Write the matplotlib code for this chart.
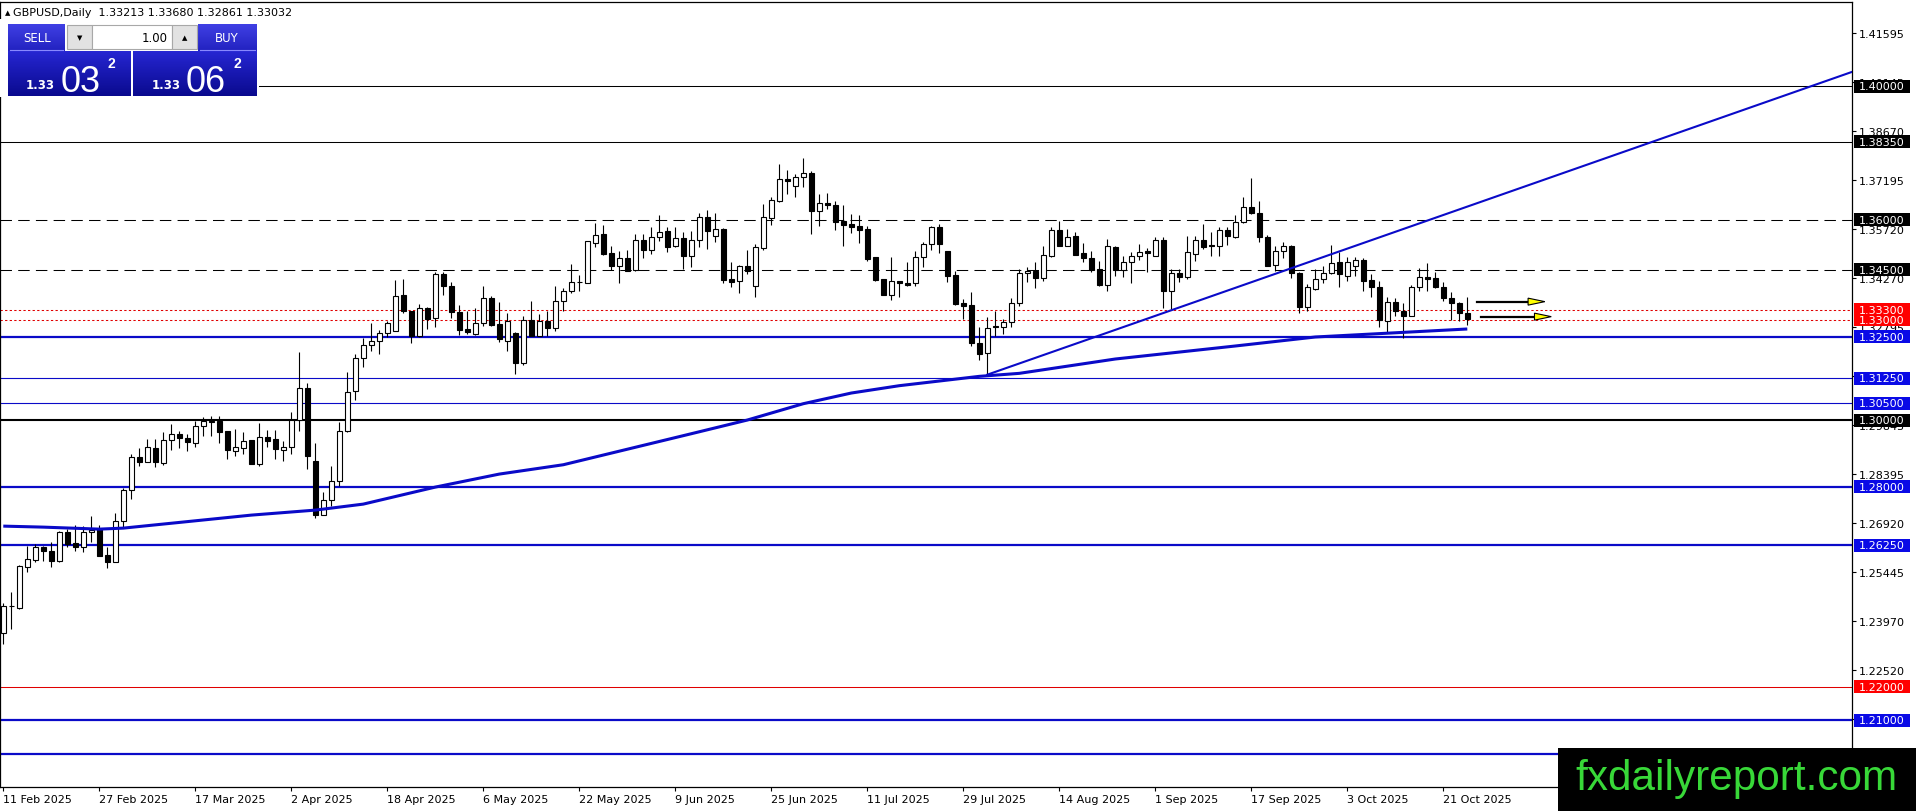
import matplotlib
matplotlib.use("Agg")
import matplotlib.pyplot as plt
import numpy as np
from matplotlib.patches import Rectangle, Polygon

W, H = 1916, 812

# daily candles, GBPUSD, 11 Feb 2025 .. 24 Oct 2025
opens = [
    1.2362, 1.2443, 1.2437, 1.2560, 1.2581, 1.2619, 1.2607, 1.2578, 1.2664, 1.2631,
    1.2619, 1.2664, 1.2673, 1.2595, 1.2575, 1.2697, 1.2790, 1.2889, 1.2874, 1.2916,
    1.2871, 1.2940, 1.2958, 1.2946, 1.2931, 1.2982, 1.2997, 1.2997, 1.2967, 1.2907,
    1.2916, 1.2940, 1.2868, 1.2949, 1.2943, 1.2910, 1.2919, 1.3000, 1.3096, 1.2877,
    1.2715, 1.2760, 1.2817, 1.2967, 1.3087, 1.3186, 1.3225, 1.3237, 1.3261, 1.3267,
    1.3375, 1.3327, 1.3252, 1.3336, 1.3306, 1.3438, 1.3402, 1.3324, 1.3273, 1.3258,
    1.3291, 1.3366, 1.3288, 1.3237, 1.3261, 1.3171, 1.3300, 1.3252, 1.3297, 1.3276,
    1.3357, 1.3387, 1.3414, 1.3411, 1.3531, 1.3558, 1.3501, 1.3462, 1.3486, 1.3450,
    1.3540, 1.3510, 1.3549, 1.3567, 1.3522, 1.3546, 1.3492, 1.3540, 1.3609, 1.3552,
    1.3573, 1.3423, 1.3417, 1.3462, 1.3402, 1.3516, 1.3606, 1.3657, 1.3723, 1.3702,
    1.3729, 1.3741, 1.3627, 1.3651, 1.3645, 1.3597, 1.3588, 1.3582, 1.3573, 1.3489,
    1.3423, 1.3375, 1.3417, 1.3411, 1.3411, 1.3489, 1.3528, 1.3579, 1.3507, 1.3435,
    1.3351, 1.3345, 1.3231, 1.3201, 1.3282, 1.3279, 1.3294, 1.3351, 1.3441, 1.3447,
    1.3426, 1.3492, 1.3570, 1.3522, 1.3552, 1.3501, 1.3486, 1.3453, 1.3405, 1.3519,
    1.3450, 1.3474, 1.3492, 1.3507, 1.3492, 1.3540, 1.3387, 1.3441, 1.3429, 1.3498,
    1.3540, 1.3525, 1.3522, 1.3570, 1.3549, 1.3594, 1.3639, 1.3621, 1.3549, 1.3465,
    1.3507, 1.3522, 1.3441, 1.3339, 1.3393, 1.3423, 1.3441, 1.3474, 1.3432, 1.3462,
    1.3480, 1.3420, 1.3399, 1.3297, 1.3354, 1.3327, 1.3312, 1.3399, 1.3429, 1.3426,
    1.3399, 1.3366, 1.3351, 1.33213,
]
highs = [
    1.2452, 1.2485, 1.2566, 1.2622, 1.2628, 1.2622, 1.2634, 1.2667, 1.2673, 1.2685,
    1.2682, 1.2712, 1.2685, 1.2619, 1.2721, 1.2796, 1.2898, 1.2916, 1.2943, 1.2943,
    1.2964, 1.2988, 1.2967, 1.2958, 1.2997, 1.3009, 1.3012, 1.3012, 1.2967, 1.2973,
    1.2964, 1.2940, 1.2991, 1.2970, 1.2970, 1.2937, 1.3024, 1.3204, 1.3111, 1.2931,
    1.2784, 1.2862, 1.2994, 1.3144, 1.3198, 1.3246, 1.3291, 1.3270, 1.3297, 1.3420,
    1.3423, 1.3327, 1.3348, 1.3339, 1.3444, 1.3444, 1.3414, 1.3345, 1.3327, 1.3336,
    1.3402, 1.3372, 1.3354, 1.3321, 1.3264, 1.3312, 1.3357, 1.3318, 1.3327, 1.3402,
    1.3396, 1.3468, 1.3435, 1.3537, 1.3591, 1.3585, 1.3522, 1.3507, 1.3510, 1.3558,
    1.3558, 1.3579, 1.3615, 1.3579, 1.3579, 1.3564, 1.3567, 1.3621, 1.3630, 1.3621,
    1.3576, 1.3474, 1.3465, 1.3510, 1.3528, 1.3648, 1.3669, 1.3768, 1.3750, 1.3738,
    1.3786, 1.3747, 1.3678, 1.3681, 1.3657, 1.3645, 1.3618, 1.3615, 1.3582, 1.3489,
    1.3423, 1.3489, 1.3417, 1.3474, 1.3507, 1.3534, 1.3582, 1.3588, 1.3507, 1.3447,
    1.3363, 1.3384, 1.3279, 1.3309, 1.3327, 1.3303, 1.3366, 1.3453, 1.3459, 1.3474,
    1.3522, 1.3579, 1.3597, 1.3573, 1.3564, 1.3531, 1.3507, 1.3477, 1.3543, 1.3522,
    1.3492, 1.3504, 1.3528, 1.3516, 1.3549, 1.3549, 1.3453, 1.3453, 1.3552, 1.3552,
    1.3588, 1.3564, 1.3579, 1.3579, 1.3615, 1.3669, 1.3726, 1.3657, 1.3555, 1.3522,
    1.3534, 1.3525, 1.3444, 1.3408, 1.3453, 1.3462, 1.3525, 1.3504, 1.3489, 1.3489,
    1.3486, 1.3438, 1.3417, 1.3369, 1.3366, 1.3351, 1.3405, 1.3456, 1.3471, 1.3444,
    1.3414, 1.3384, 1.3354, 1.33680,
]
lows = [
    1.2329, 1.2374, 1.2434, 1.2545, 1.2575, 1.2578, 1.2560, 1.2575, 1.2619, 1.2607,
    1.2604, 1.2634, 1.2592, 1.2557, 1.2575, 1.2679, 1.2763, 1.2862, 1.2874, 1.2859,
    1.2865, 1.2910, 1.2916, 1.2907, 1.2919, 1.2952, 1.2952, 1.2931, 1.2883, 1.2892,
    1.2898, 1.2868, 1.2862, 1.2919, 1.2883, 1.2877, 1.2898, 1.2967, 1.2853, 1.2706,
    1.2715, 1.2742, 1.2802, 1.2964, 1.3060, 1.3159, 1.3207, 1.3198, 1.3249, 1.3267,
    1.3321, 1.3231, 1.3249, 1.3273, 1.3279, 1.3375, 1.3306, 1.3255, 1.3258, 1.3255,
    1.3282, 1.3282, 1.3234, 1.3207, 1.3138, 1.3165, 1.3252, 1.3252, 1.3252, 1.3267,
    1.3327, 1.3381, 1.3387, 1.3411, 1.3519, 1.3495, 1.3450, 1.3411, 1.3447, 1.3447,
    1.3486, 1.3498, 1.3537, 1.3504, 1.3519, 1.3453, 1.3459, 1.3519, 1.3513, 1.3534,
    1.3411, 1.3399, 1.3381, 1.3438, 1.3369, 1.3510, 1.3585, 1.3654, 1.3678, 1.3669,
    1.3699, 1.3558, 1.3582, 1.3633, 1.3570, 1.3522, 1.3561, 1.3531, 1.3477, 1.3417,
    1.3375, 1.3360, 1.3369, 1.3402, 1.3402, 1.3459, 1.3510, 1.3501, 1.3414, 1.3345,
    1.3303, 1.3222, 1.3180, 1.3136, 1.3252, 1.3258, 1.3279, 1.3342, 1.3414, 1.3396,
    1.3417, 1.3489, 1.3522, 1.3522, 1.3495, 1.3474, 1.3444, 1.3402, 1.3387, 1.3432,
    1.3429, 1.3411, 1.3480, 1.3444, 1.3492, 1.3336, 1.3333, 1.3414, 1.3423, 1.3477,
    1.3513, 1.3492, 1.3492, 1.3525, 1.3546, 1.3591, 1.3618, 1.3534, 1.3462, 1.3447,
    1.3486, 1.3426, 1.3321, 1.3327, 1.3390, 1.3411, 1.3438, 1.3399, 1.3417, 1.3432,
    1.3387, 1.3369, 1.3279, 1.3264, 1.3312, 1.3246, 1.3312, 1.3387, 1.3387, 1.3396,
    1.3357, 1.3300, 1.3297, 1.32861,
]
closes = [
    1.2443, 1.2442, 1.2563, 1.2584, 1.2619, 1.2607, 1.2578, 1.2664, 1.2628, 1.2619,
    1.2664, 1.2670, 1.2592, 1.2575, 1.2697, 1.2790, 1.2889, 1.2874, 1.2919, 1.2874,
    1.2940, 1.2958, 1.2946, 1.2934, 1.2982, 1.2997, 1.2994, 1.2964, 1.2910, 1.2919,
    1.2937, 1.2868, 1.2949, 1.2937, 1.2913, 1.2919, 1.3000, 1.3096, 1.2892, 1.2715,
    1.2760, 1.2817, 1.2967, 1.3084, 1.3186, 1.3225, 1.3237, 1.3261, 1.3291, 1.3372,
    1.3327, 1.3252, 1.3336, 1.3303, 1.3438, 1.3402, 1.3324, 1.3270, 1.3264, 1.3291,
    1.3366, 1.3285, 1.3243, 1.3297, 1.3171, 1.3300, 1.3252, 1.3297, 1.3276, 1.3357,
    1.3387, 1.3414, 1.3415, 1.3537, 1.3555, 1.3498, 1.3462, 1.3486, 1.3447, 1.3540,
    1.3510, 1.3549, 1.3564, 1.3519, 1.3546, 1.3492, 1.3540, 1.3609, 1.3567, 1.3573,
    1.3420, 1.3414, 1.3462, 1.3447, 1.3519, 1.3609, 1.3660, 1.3723, 1.3717, 1.3729,
    1.3741, 1.3627, 1.3651, 1.3645, 1.3594, 1.3585, 1.3579, 1.3570, 1.3483, 1.3420,
    1.3375, 1.3417, 1.3411, 1.3405, 1.3489, 1.3528, 1.3579, 1.3528, 1.3432, 1.3348,
    1.3342, 1.3231, 1.3198, 1.3276, 1.3279, 1.3294, 1.3351, 1.3441, 1.3447, 1.3426,
    1.3495, 1.3570, 1.3522, 1.3549, 1.3495, 1.3486, 1.3450, 1.3405, 1.3522, 1.3450,
    1.3474, 1.3492, 1.3504, 1.3501, 1.3540, 1.3387, 1.3441, 1.3429, 1.3504, 1.3540,
    1.3519, 1.3522, 1.3570, 1.3552, 1.3594, 1.3639, 1.3621, 1.3549, 1.3462, 1.3507,
    1.3522, 1.3441, 1.3339, 1.3399, 1.3423, 1.3441, 1.3471, 1.3438, 1.3474, 1.3480,
    1.3417, 1.3399, 1.3300, 1.3354, 1.3327, 1.3312, 1.3399, 1.3429, 1.3423, 1.3399,
    1.3366, 1.3351, 1.3321, 1.33032,
]

# moving average, read at a number of bars
ma_idx = [0, 5, 12, 15, 31, 39, 45, 54, 62, 70, 86, 93, 100, 106, 112, 122,
          127, 139, 154, 164, 183]
ma_val = [1.2682, 1.2679, 1.2673, 1.2676, 1.2715, 1.2730, 1.2748, 1.2799,
          1.2838, 1.2866, 1.2959, 1.3000, 1.3049, 1.3081, 1.3103, 1.3131,
          1.3140, 1.3183, 1.3222, 1.3249, 1.3273]

# trend line anchors (bar, price)
trend_x = [123, 231]
trend_y = [1.3136, 1.4043]

# horizontal levels
levels = [1.40, 1.3835, 1.36, 1.345, 1.333, 1.33, 1.325, 1.3125, 1.305, 1.30,
          1.28, 1.2625, 1.22, 1.21, 1.20]
level_kind = ['k', 'k', 'kd', 'kd', 'r:', 'r:', 'b2', 'b', 'b', 'k2',
              'b2', 'b2', 'r', 'b2', 'b2']
level_tagged = [True] * 14 + [False]

yticks = [1.41595, 1.40145, 1.38670, 1.37195, 1.35720, 1.34270, 1.32795, 1.31320,
          1.29845, 1.28395, 1.26920, 1.25445, 1.23970, 1.22520, 1.21045, 1.19570]
date_labels = ['11 Feb 2025', '27 Feb 2025', '17 Mar 2025', '2 Apr 2025',
               '18 Apr 2025', '6 May 2025', '22 May 2025', '9 Jun 2025',
               '25 Jun 2025', '11 Jul 2025', '29 Jul 2025', '14 Aug 2025',
               '1 Sep 2025', '17 Sep 2025', '3 Oct 2025', '21 Oct 2025']
date_step = 12

# arrows to the right of the last bar
arrow_y = [1.3355, 1.3310]
arrow_x0 = [184.2, 184.7]
arrow_head = [190.6, 191.4]
arrow_tip = [192.7, 193.5]

BLUE_LINE = '#0a0ac8'
BLUE_TAG = '#0a0ae6'


def fpx(x, y):
    return x / W, 1 - y / H


def frect(x, y, w, h):
    return [x / W, 1 - (y + h) / H, w / W, h / H]


fig = plt.figure(figsize=(W / 100, H / 100), dpi=100)
fig.patch.set_facecolor('white')
ax = fig.add_axes(frect(0, 2.7, 1852, 785.3))
ax.set_xlim(-0.41, 231.09)
ax.set_ylim(1.18999, 1.42542)
for s in ax.spines.values():
    s.set_color('black')
    s.set_linewidth(0.9)

# candles
idx = np.arange(len(opens))
ax.vlines(idx, lows, highs, color='black', lw=0.8, zorder=2)
for i in idx:
    o, c = opens[i], closes[i]
    face = 'white' if c >= o else 'black'
    ax.add_patch(Rectangle((i - 0.3, min(o, c)), 0.6, max(abs(c - o), 0.00003),
                           facecolor=face, edgecolor='black', lw=0.8, zorder=3))

# levels
styles = {
    'k': ('black', 0.75, '-'), 'kd': ('black', 0.75, (0, (11, 6))),
    'k2': ('black', 1.5, '-'), 'r': ('#e00000', 0.75, '-'),
    'r:': ('#e00000', 0.75, (0, (2.2, 2.2))), 'b': (BLUE_LINE, 0.8, '-'),
    'b2': (BLUE_LINE, 1.6, '-'),
}
tag_colors = {'k': 'black', 'kd': 'black', 'k2': 'black', 'r': '#ff0000',
              'r:': '#ff0000', 'b': BLUE_TAG, 'b2': BLUE_TAG}
trans = ax.get_yaxis_transform()
box_h = 13 * 0.0002998
for lv, kind, tagged in zip(levels, level_kind, level_tagged):
    col, lw, ls = styles[kind]
    ax.axhline(lv, color=col, lw=lw, ls=ls, zorder=1)
    if tagged:
        ax.add_patch(Rectangle((1854 / 1852, lv - box_h / 2), 56 / 1852, box_h,
                               transform=trans, facecolor=tag_colors[kind],
                               edgecolor='none', clip_on=False, zorder=6))
        ax.text(1858.5 / 1852, lv, f'{lv:.5f}', transform=trans, color='white',
                fontsize=8, ha='left', va='center', clip_on=False, zorder=7)

# moving average and trend line
ax.plot(ma_idx, ma_val, color=BLUE_LINE, lw=2.2, zorder=4, solid_capstyle='butt')
ax.plot(trend_x, trend_y, color=BLUE_LINE, lw=1.5, zorder=4)

# arrows
hh = 3.5 * 0.0002998
for y, x0, xh, xt in zip(arrow_y, arrow_x0, arrow_head, arrow_tip):
    ax.plot([x0, xh], [y, y], color='black', lw=1.6, zorder=5)
    ax.add_patch(Polygon([[xh, y - hh], [xh, y + hh], [xt, y]], closed=True,
                         facecolor='#ffff00', edgecolor='black', lw=0.8, zorder=5))

# axes ticks
ax.yaxis.tick_right()
ax.set_yticks(yticks)
ax.set_yticklabels([f'{v:.5f}' for v in yticks])
ax.tick_params(axis='y', direction='out', length=3, width=0.8, pad=2, labelsize=8)
ax.set_xticks(np.arange(len(date_labels)) * date_step)
ax.set_xticklabels(date_labels)
ax.tick_params(axis='x', direction='out', length=3, width=0.8, pad=2, labelsize=8)
for lbl in ax.get_xticklabels():
    lbl.set_ha('left')

# trade panel at top left
fig.add_artist(Rectangle(fpx(0, 98), 259 / W, 78 / H, transform=fig.transFigure,
                         facecolor='white', edgecolor='none', zorder=4))
fig.text(*fpx(4.5, 13), '\u25b2', fontsize=5, ha='left', va='center', zorder=10)
fig.text(*fpx(13, 13), 'GBPUSD,Daily  1.33213 1.33680 1.32861 1.33032',
         fontsize=8, ha='left', va='center', zorder=10)


def gradient_box(rect, top, bottom):
    g = fig.add_axes(frect(*rect))
    g.set_zorder(5)
    c1 = np.array(matplotlib.colors.to_rgb(top))
    c2 = np.array(matplotlib.colors.to_rgb(bottom))
    t = np.linspace(0, 1, 40)[:, None, None]
    img = c1 * (1 - t) + c2 * t
    g.imshow(np.repeat(img, 2, axis=1), aspect='auto', extent=(0, 1, 0, 1))
    g.axis('off')


gradient_box((8, 25, 57, 27), '#4040e4', '#2222c0')
gradient_box((198, 25, 59, 27), '#4040e4', '#2222c0')
gradient_box((8, 52, 123, 45), '#2626d2', '#0a0a8e')
gradient_box((133, 52, 124, 45), '#2626d2', '#0a0a8e')
for x, w, col in [(67, 25, '#e2e2e2'), (92, 80, 'white'), (172, 25, '#e2e2e2')]:
    fig.add_artist(Rectangle(fpx(x, 50), w / W, 24 / H, transform=fig.transFigure,
                             facecolor=col, edgecolor='#a8a8a8', lw=0.8, zorder=6))
for x0, x1 in [(10, 63), (200, 255)]:
    fig.add_artist(plt.Line2D([x0 / W, x1 / W], [1 - 51 / H, 1 - 51 / H],
                              color='#8888ff', lw=0.8, zorder=7))
fig.text(*fpx(37, 38), 'SELL', color='white', fontsize=8.5, ha='center', va='center', zorder=10)
fig.text(*fpx(227, 38), 'BUY', color='white', fontsize=8.5, ha='center', va='center', zorder=10)
fig.text(*fpx(79.5, 38), '\u25bc', fontsize=5, ha='center', va='center', zorder=10)
fig.text(*fpx(184.5, 38), '\u25b2', fontsize=5, ha='center', va='center', zorder=10)
fig.text(*fpx(168, 38), '1.00', fontsize=8.5, ha='right', va='center', zorder=10)
for x_small, x_big, x_sup, big in [(26, 61, 107, '03'), (152, 186, 233, '06')]:
    fig.text(*fpx(x_small, 89), '1.33', color='white', fontsize=8.5,
             fontweight='bold', ha='left', va='baseline', zorder=10)
    fig.text(*fpx(x_big, 92), big, color='white', fontsize=26,
             family='Liberation Sans', ha='left', va='baseline', zorder=10)
    fig.text(*fpx(x_sup, 57), '2', color='white', fontsize=10, fontweight='bold',
             family='Liberation Sans', ha='left', va='top', zorder=10)

# watermark
fig.add_artist(Rectangle(fpx(1558, 812), (W - 1558) / W, 63 / H,
                         transform=fig.transFigure, facecolor='black',
                         edgecolor='none', zorder=20))
fig.text(*fpx(1736, 790), 'fxdailyreport.com', color='#38d838', fontsize=30.4,
         family='Liberation Sans', ha='center', va='baseline', zorder=21)

fig.savefig('out.png', dpi=100, facecolor='white')
